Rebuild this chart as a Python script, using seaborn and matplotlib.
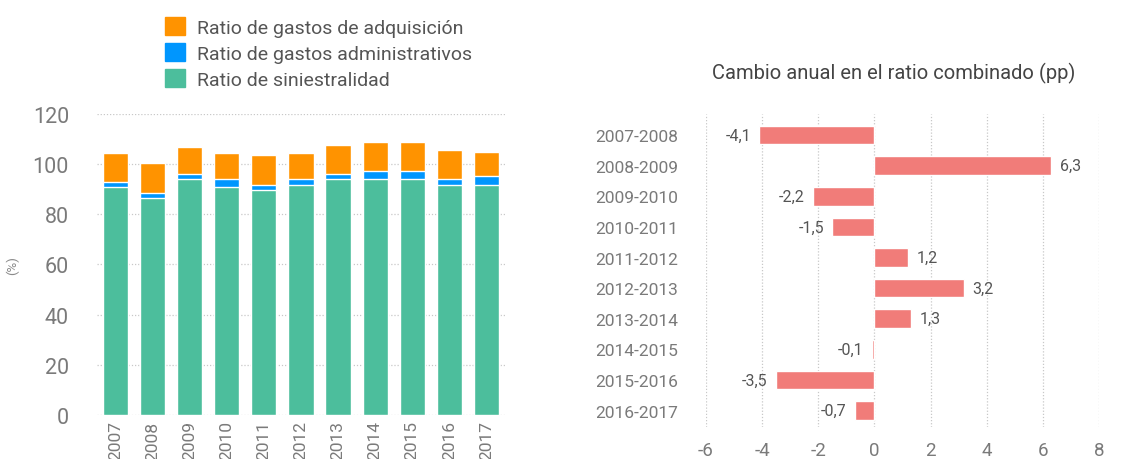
import matplotlib
matplotlib.use("Agg")
import matplotlib.pyplot as plt
from matplotlib.patches import Patch
import numpy as np
import pandas as pd
import seaborn as sns

years = ["2007", "2008", "2009", "2010", "2011", "2012", "2013", "2014", "2015", "2016", "2017"]
siniestralidad = [90.9, 86.5, 94.1, 90.9, 89.7, 91.7, 94.1, 94.1, 94.1, 91.7, 91.7]
administrativos = [2.0, 2.0, 2.0, 3.2, 2.0, 2.4, 2.0, 3.2, 3.2, 2.4, 3.6]
adquisicion = [11.6, 12.0, 10.7, 10.4, 12.0, 10.4, 11.5, 11.5, 11.5, 11.5, 9.5]

periods = ["2007-2008", "2008-2009", "2009-2010", "2010-2011", "2011-2012", "2012-2013",
           "2013-2014", "2014-2015", "2015-2016", "2016-2017"]
cambio = [-4.1, 6.3, -2.2, -1.5, 1.2, 3.2, 1.3, -0.1, -3.5, -0.7]

labels = ["Ratio de gastos de adquisición", "Ratio de gastos administrativos", "Ratio de siniestralidad"]
c_acq, c_adm, c_sin = "#FF9300", "#0096FE", "#4CBE9C"
c_red = "#F17C79"

sns.set_style("white")
plt.rcParams['font.family'] = ['Roboto', 'DejaVu Sans']
plt.rcParams['axes.unicode_minus'] = False

df = pd.DataFrame({"year": years, "sin": siniestralidad, "adm": administrativos, "acq": adquisicion})
df["top2"] = df["sin"] + df["adm"]
df["top3"] = df["top2"] + df["acq"]

fig = plt.figure(figsize=(11.26, 4.6), dpi=100)
ax1 = fig.add_axes([0.086, 0.096, 0.3625, 0.654])
ax2 = fig.add_axes([0.627, 0.07, 0.349, 0.68])

# stacked bars, drawn back to front
sns.barplot(data=df, x="year", y="top3", color=c_acq, width=0.68, saturation=1, ax=ax1)
sns.barplot(data=df, x="year", y="top2", color=c_adm, width=0.68, saturation=1, ax=ax1)
sns.barplot(data=df, x="year", y="sin", color=c_sin, width=0.68, saturation=1, ax=ax1)
ax1.set_ylim(0, 120)
ax1.set_xlim(-0.5, 10.5)
ax1.set_yticks(range(0, 121, 20))
ax1.yaxis.grid(True, linestyle=(0, (1, 1.5)), color="#c8c8c8", linewidth=0.9)
ax1.set_axisbelow(True)
for s in ax1.spines.values():
    s.set_visible(False)
ax1.tick_params(axis="y", length=0, pad=20, labelsize=15.5, labelcolor="#7a7a7a")
ax1.tick_params(axis="x", length=0, pad=4, labelsize=12.5, labelcolor="#7a7a7a", rotation=90)
ax1.set_xlabel("")
ax1.set_ylabel("(%)", fontsize=9.5, color="#8a8a8a")
ax1.yaxis.set_label_coords(-0.19, 0.5)

handles = [Patch(color=c_acq), Patch(color=c_adm), Patch(color=c_sin)]
fig.legend(handles, labels, loc="upper left", bbox_to_anchor=(0.1345, 0.99), frameon=False,
           fontsize=14, handlelength=1.05, handleheight=1.05, handletextpad=0.6,
           labelspacing=0.32, borderpad=0.2, labelcolor="#555555")

# annual change
sns.barplot(x=cambio, y=periods, orient="h", color=c_red, width=0.61, saturation=1, ax=ax2)
ax2.set_xlim(-6, 8)
ax2.set_ylim(9.53, -0.69)
ax2.set_xticks(range(-6, 9, 2))
ax2.xaxis.grid(True, linestyle=(0, (1, 1.5)), color="#c8c8c8", linewidth=0.9)
ax2.set_axisbelow(True)
for s in ax2.spines.values():
    s.set_visible(False)
ax2.tick_params(axis="y", length=0, pad=20, labelsize=12.5, labelcolor="#7a7a7a")
ax2.tick_params(axis="x", length=0, pad=10, labelsize=13.5, labelcolor="#7a7a7a")
ax2.set_xlabel("")
ax2.set_ylabel("")
ax2.bar_label(ax2.containers[0], labels=[f"{v:.1f}".replace(".", ",") for v in cambio],
              padding=6, fontsize=11.5, color="#555555")
ax2.set_title("Cambio anual en el ratio combinado (pp)", fontsize=14.5, color="#444444",
              pad=26, x=0.478)

fig.savefig("out.png", dpi=100)
